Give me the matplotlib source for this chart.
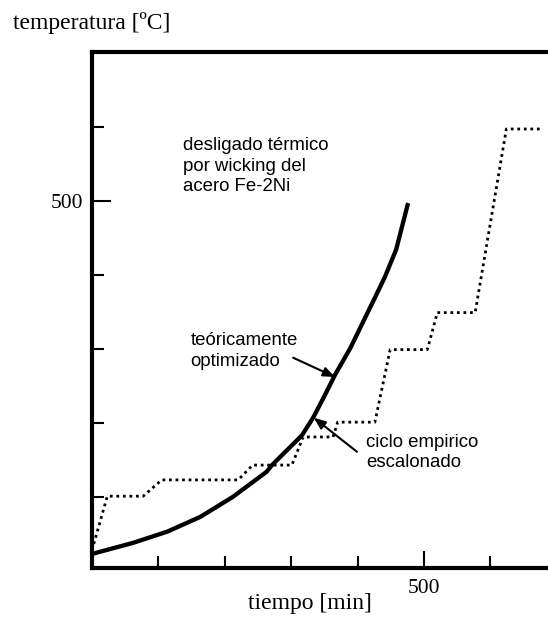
import matplotlib
matplotlib.use("Agg")
import matplotlib.pyplot as plt

# --- data ---
opt_t = [0, 62, 113, 163, 212, 263, 271, 316, 333, 351, 366, 389, 408, 426, 441, 458, 476]
opt_T = [23, 38, 53, 73, 100, 134, 143, 183, 207, 238, 265, 301, 336, 369, 397, 434, 497]

emp_t = [0, 23, 77, 105, 220, 242, 301, 318, 363, 370, 426, 449, 505, 520, 577, 624, 676]
emp_T = [28, 101, 101, 123, 123, 143, 143, 181, 181, 201, 201, 299, 299, 349, 349, 597, 597]

x_ticks = [100, 200, 300, 400, 500, 600]
y_ticks = [100, 200, 300, 400, 500, 600]
x_labels = ["", "", "", "", "500", ""]
y_labels = ["", "", "", "", "500", ""]

SANS = "Liberation Sans"
SERIF = "Liberation Serif"

fig = plt.figure(figsize=(5.48, 6.28), dpi=100)
ax = fig.add_axes([92 / 548, 60 / 628, 456 / 548, 516 / 628])

ax.plot(opt_t, opt_T, color="black", lw=3.1, solid_capstyle="butt", solid_joinstyle="round")
ax.plot(emp_t, emp_T, color="black", lw=2.0, linestyle=(0, (1, 1.35)))

ax.set_xlim(0, 686.7)
ax.set_ylim(4, 701)

for s in ["left", "bottom", "top"]:
    ax.spines[s].set_linewidth(3.0)
ax.spines["right"].set_visible(False)

ax.set_xticks(x_ticks)
ax.set_xticklabels(x_labels, fontfamily=SERIF, fontsize=15.5)
ax.set_yticks(y_ticks)
ax.set_yticklabels(y_labels, fontfamily=SERIF, fontsize=15.5)
ax.tick_params(axis="both", direction="in", length=8.5, width=1.5, color="black")
ax.tick_params(axis="y", pad=6)
ax.tick_params(axis="x", pad=8)
# longer labelled ticks
ax.xaxis.get_major_ticks()[4].tick1line.set_markersize(12)
ax.yaxis.get_major_ticks()[4].tick1line.set_markersize(14)

# axis labels
fig.text(13 / 548, 1 - 23 / 628, "temperatura [ºC]", fontfamily=SERIF, fontsize=17,
         ha="left", va="center")
fig.text(310 / 548, 1 - 603 / 628, "tiempo [min]", fontfamily=SERIF, fontsize=17,
         ha="center", va="center")

# annotations
arrow = dict(arrowstyle="-|>,head_length=0.7,head_width=0.28", color="black",
             lw=1.5, shrinkA=0, shrinkB=0)
ax.text(137, 547, "desligado térmico\npor wicking del\nacero Fe-2Ni", fontfamily=SANS,
        fontsize=13.4, ha="left", va="center", linespacing=1.3)
ax.text(148, 297, "teóricamente\noptimizado", fontfamily=SANS,
        fontsize=13.4, ha="left", va="center", linespacing=1.3)
ax.annotate("", xy=(366, 262), xytext=(303, 288), arrowprops=arrow)
ax.text(413, 160, "ciclo empirico\nescalonado", fontfamily=SANS,
        fontsize=13.4, ha="left", va="center", linespacing=1.3)
ax.annotate("", xy=(334, 207), xytext=(399, 161), arrowprops=arrow)

fig.savefig("out.png", dpi=100)
